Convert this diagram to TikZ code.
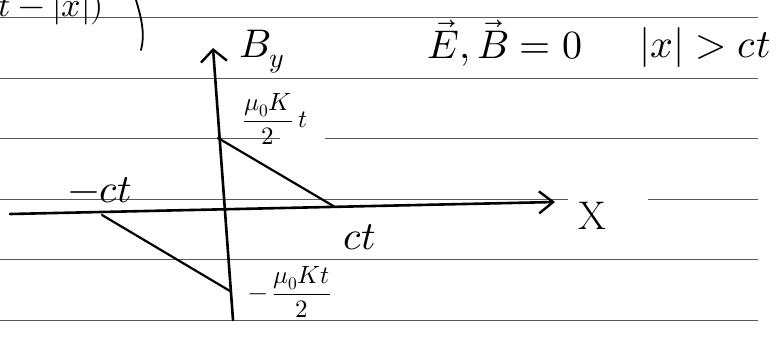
\documentclass[tikz,border=0pt]{standalone}
\usepackage{unicode-math}
\setmathfont{Latin Modern Math}
\usetikzlibrary{arrows.meta}
\begin{document}
\begin{tikzpicture}[x=1pt,y=-1pt,
  rule/.style={draw=black!65,line width=0.9pt},
  axis/.style={line width=2.6pt,line cap=round},
  ink/.style={line width=2.2pt,line cap=round},
  big/.style={font=\fontsize{40}{42}\selectfont,inner sep=0pt},
  mid/.style={font=\fontsize{25}{27}\selectfont,inner sep=0pt}]
\useasboundingbox (0,0) rectangle (777,338);
% ruled lines
\draw[rule] (0,17) -- (758,17);
\draw[rule] (0,78) -- (758,78);
\draw[rule] (0,138) -- (280,138);
\draw[rule] (325,138) -- (758,138);
\draw[rule] (0,199) -- (568,199);
\draw[rule] (648,199) -- (758,199);
\draw[rule] (0,259) -- (758,259);
\draw[rule] (0,320) -- (758,320);
% top-left fragment
\node[font=\fontsize{34}{36}\selectfont,inner sep=0pt,anchor=east] (frag) at (104,8) {$t-|x|)$};
\draw[ink,line width=1.8pt] (136,0) .. controls (142,20) and (145,35) .. (141,50);
% axes
\coordinate (ybot) at (233,320);
\coordinate (ytop) at (213,48);
\coordinate (xleft) at (10,214);
\coordinate (xright) at (555,202);
\draw[axis,-{Straight Barb[length=12pt,width=26pt,line width=2.4pt]}] (ybot) -- (ytop);
\draw[axis,-{Straight Barb[length=14pt,width=22pt,line width=2.4pt]}] (xleft) -- (xright);
% triangles
\coordinate (ptop) at (218,138);
\coordinate (pct) at (335,207);
\coordinate (pmct) at (102,215);
\coordinate (pbot) at (230,291);
\draw[ink] (ptop) -- (pct);
\draw[ink] (pmct) -- (pbot);
% labels
\node[big] (By) at (262,52) {$B_y$};
\node[big] (EB) at (505,43) {$\vec{E},\vec{B}=0$};
\node[big] (cond) at (705,47) {$|x|>ct$};
\node[mid] (up) at (268,119) {$\dfrac{\mu_0 K}{2}$};
\node[mid] (upt) at (303,120) {$t$};
\node[big] (mct) at (100,190) {$-ct$};
\node[big] (ct) at (360,237) {$ct$};
\node[big] (X) at (592,216) {X};
\node[mid] (lo) at (290,292) {$-\,\dfrac{\mu_0 Kt}{2}$};
\end{tikzpicture}
\end{document}
